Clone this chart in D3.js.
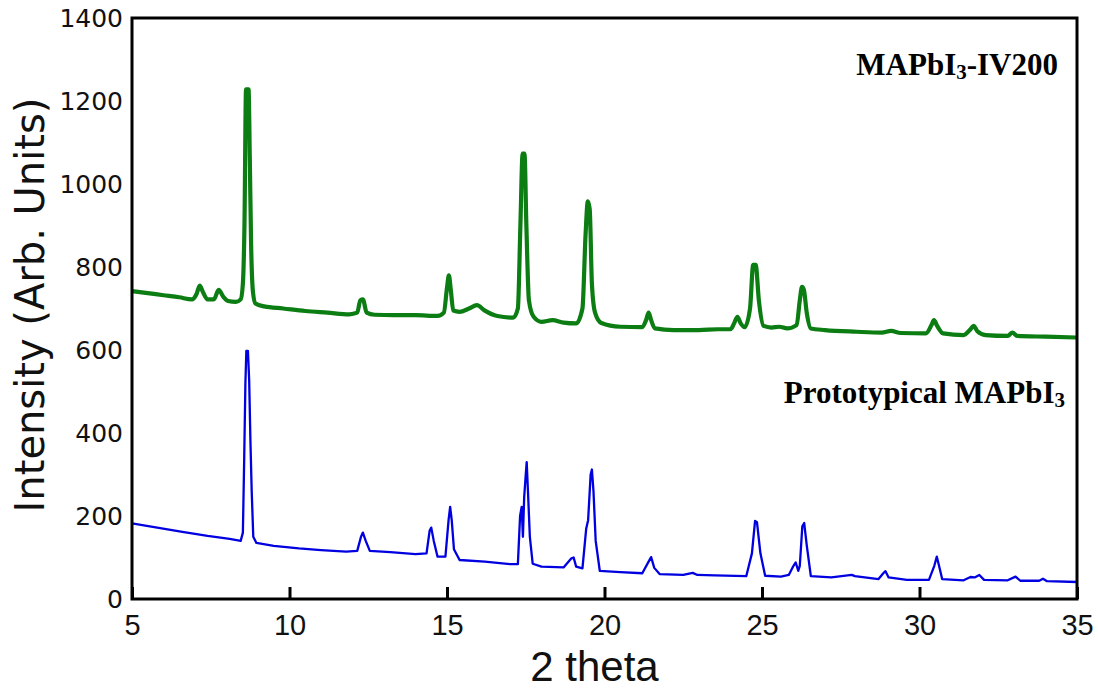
<!DOCTYPE html>
<html>
<head>
<meta charset="utf-8">
<script src="https://cdn.jsdelivr.net/npm/d3@7"></script>
<style>
  html, body { margin: 0; padding: 0; background: #fff; }
  svg { display: block; }
</style>
</head>
<body>
<svg id="chart" width="1098" height="690"></svg>
<script>
// X-ray diffraction patterns: 2θ (degrees) vs. intensity (arb. units)

// MAPbI3-IV200 film
const ivTheta = [
  5.0, 5.5, 6.0, 6.5, 6.9, 7.05, 7.15, 7.25, 7.4, 7.6, 7.75, 7.9, 8.05, 8.3, 8.45,
  8.52, 8.57, 8.62, 8.70, 8.74, 8.78, 8.84, 8.92, 9.2, 9.8, 10.5, 11.2, 11.9,
  12.15, 12.25, 12.33, 12.45, 12.7, 13.3, 14.0, 14.7, 14.9, 15.0, 15.06, 15.12,
  15.2, 15.4, 15.7, 15.95, 16.2, 16.6, 17.1, 17.25, 17.33, 17.40, 17.46, 17.52,
  17.6, 17.75, 18.0, 18.35, 18.7, 19.1, 19.3, 19.4, 19.47, 19.53, 19.6, 19.7,
  19.9, 20.5, 21.2, 21.32, 21.40, 21.48, 21.6, 22.2, 23.0, 23.6, 24.0, 24.12,
  24.22, 24.32, 24.45, 24.62, 24.72, 24.8, 24.9, 25.05, 25.3, 25.55, 25.8, 26.1,
  26.2, 26.27, 26.33, 26.42, 26.55, 27.0, 28.0, 28.8, 29.1, 29.4, 30.2, 30.38,
  30.46, 30.56, 30.75, 31.4, 31.62, 31.72, 31.83, 32.1, 32.8, 32.95, 33.1, 34.0, 35.0
];
const ivIntensity = [
  742, 737, 732, 727, 722, 735, 755, 740, 722, 722, 745, 728, 718, 716, 722,
  760, 900, 1228, 1228, 1060, 860, 740, 712, 705, 700, 694, 690, 686,
  690, 720, 722, 690, 685, 684, 684, 682, 690, 750, 780, 745,
  695, 692, 700, 708, 695, 682, 678, 700, 900, 1073, 1073, 900,
  720, 680, 668, 672, 666, 664, 700, 880, 958, 940, 760, 690,
  665, 656, 655, 672, 690, 672, 652, 648, 648, 650, 650, 665,
  680, 665, 655, 700, 805, 805, 720, 658, 654, 656, 652, 660,
  720, 752, 745, 690, 652, 648, 644, 642, 646, 641, 640, 660,
  672, 658, 640, 636, 650, 658, 646, 636, 634, 642, 634, 632, 630
];

// Prototypical MAPbI3
const protoTheta = [
  5.0, 5.8, 6.6, 7.4, 8.1, 8.45, 8.52, 8.56, 8.60, 8.63, 8.68, 8.72, 8.76, 8.80,
  8.85, 8.95, 9.5, 10.3, 11.0, 11.8, 12.15, 12.27, 12.33, 12.42, 12.55, 13.2,
  14.0, 14.35, 14.45, 14.5, 14.58, 14.7, 14.95, 15.05, 15.1, 15.15, 15.22, 15.4,
  16.2, 17.0, 17.25, 17.32, 17.37, 17.41, 17.45, 17.5, 17.53, 17.57, 17.63,
  17.72, 18.0, 18.7, 18.95, 19.02, 19.1, 19.3, 19.42, 19.48, 19.56, 19.6, 19.65,
  19.72, 19.85, 20.5, 21.2, 21.4, 21.48, 21.58, 21.75, 22.5, 22.8, 22.95, 23.5,
  24.5, 24.68, 24.78, 24.84, 24.95, 25.1, 25.6, 25.85, 26.0, 26.07, 26.15, 26.2,
  26.28, 26.34, 26.42, 26.55, 27.2, 27.85, 27.95, 28.7, 28.85, 28.92, 29.02,
  29.6, 30.3, 30.47, 30.55, 30.62, 30.72, 31.4, 31.62, 31.75, 31.9, 32.05, 32.8,
  33.05, 33.2, 33.8, 33.92, 34.05, 35.0
];
const protoIntensity = [
  182, 172, 162, 152, 145, 140, 160, 330, 520, 598, 598, 527, 380, 260,
  150, 135, 128, 122, 118, 114, 116, 150, 160, 140, 116, 113,
  108, 110, 165, 172, 140, 102, 102, 190, 222, 190, 120, 94,
  90, 84, 84, 200, 222, 150, 245, 300, 330, 260, 150,
  85, 78, 76, 98, 100, 78, 74, 170, 190, 300, 312, 260,
  140, 68, 65, 62, 90, 101, 75, 60, 58, 63, 58, 57,
  55, 110, 188, 185, 110, 56, 54, 58, 80, 88, 68, 80,
  175, 183, 130, 55, 52, 58, 55, 48, 62, 67, 52,
  46, 46, 80, 102, 80, 48, 45, 53, 52, 58, 46, 45,
  54, 44, 44, 49, 43, 41
];

const xTicks = [5, 10, 15, 20, 25, 30, 35];
const yTicks = [0, 200, 400, 600, 800, 1000, 1200, 1400];

// ---- layout ----
const svg = d3.select("#chart");
const margin = { left: 132, right: 21, top: 18, bottom: 91 };
const W = 1098, H = 690;
const iw = W - margin.left - margin.right;
const ih = H - margin.top - margin.bottom;

const x = d3.scaleLinear().domain([5, 35]).range([0, iw]);
const y = d3.scaleLinear().domain([0, 1400]).range([ih, 0]);

const g = svg.append("g").attr("transform", `translate(${margin.left},${margin.top})`);

// traces
const ivData = d3.zip(ivTheta, ivIntensity);
const protoData = d3.zip(protoTheta, protoIntensity);

g.append("path").datum(protoData)
  .attr("d", d3.line().x(d => x(d[0])).y(d => y(d[1])))
  .attr("fill", "none")
  .attr("stroke", "#0000e0")
  .attr("stroke-width", 2.3)
  .attr("stroke-linejoin", "round");

g.append("path").datum(ivData)
  .attr("d", d3.line().curve(d3.curveMonotoneX).x(d => x(d[0])).y(d => y(d[1])))
  .attr("fill", "none")
  .attr("stroke", "#0b7d12")
  .attr("stroke-width", 4.2)
  .attr("stroke-linejoin", "round");

// x axis: ticks point into the plot
const xAxis = g.append("g")
  .attr("transform", `translate(0,${ih})`)
  .call(d3.axisBottom(x).tickValues(xTicks).tickSize(-12).tickPadding(15).tickFormat(d3.format("d")));
xAxis.select(".domain").remove();
xAxis.selectAll(".tick line").attr("stroke", "#000").attr("stroke-width", 3);
xAxis.selectAll(".tick text")
  .attr("fill", "#111")
  .style("font-family", "'Liberation Sans', Arial, sans-serif")
  .style("font-size", "29px");

// y axis: labels only
const yAxis = g.append("g")
  .call(d3.axisLeft(y).tickValues(yTicks).tickSize(0).tickPadding(9).tickFormat(d3.format("d")));
yAxis.select(".domain").remove();
yAxis.selectAll(".tick text")
  .attr("fill", "#111")
  .style("font-family", "'DejaVu Sans', sans-serif")
  .style("font-size", "25px");

// frame
g.append("rect")
  .attr("x", 0).attr("y", 0)
  .attr("width", iw).attr("height", ih)
  .attr("fill", "none")
  .attr("stroke", "#000")
  .attr("stroke-width", 3);

// axis titles
svg.append("text")
  .attr("x", margin.left + x(20) - 10)
  .attr("y", 681)
  .attr("text-anchor", "middle")
  .attr("fill", "#111")
  .style("font-family", "'Liberation Sans', Arial, sans-serif")
  .style("font-size", "42px")
  .text("2 theta");

svg.append("text")
  .attr("transform", `translate(44,305) rotate(-90)`)
  .attr("text-anchor", "middle")
  .attr("fill", "#111")
  .style("font-family", "'DejaVu Sans', sans-serif")
  .style("font-size", "40px")
  .text("Intensity (Arb. Units)");

// series labels (bold serif, with subscript 3)
function seriesLabel(xPos, yPos, parts) {
  const t = svg.append("text")
    .attr("x", xPos).attr("y", yPos)
    .attr("text-anchor", "end")
    .attr("fill", "#000")
    .style("font-family", "'Liberation Serif', 'Times New Roman', serif")
    .style("font-weight", "bold")
    .style("font-size", "31px");
  parts.forEach(p => {
    const s = t.append("tspan").text(p.text);
    if (p.sub) s.style("font-size", "21px").attr("dy", 4);
    else if (p.after) s.attr("dy", -4);
  });
}
seriesLabel(1058, 75, [{ text: "MAPbI" }, { text: "3", sub: true }, { text: "-IV200", after: true }]);
seriesLabel(1065, 403, [{ text: "Prototypical MAPbI" }, { text: "3", sub: true }]);
</script>
</body>
</html>
